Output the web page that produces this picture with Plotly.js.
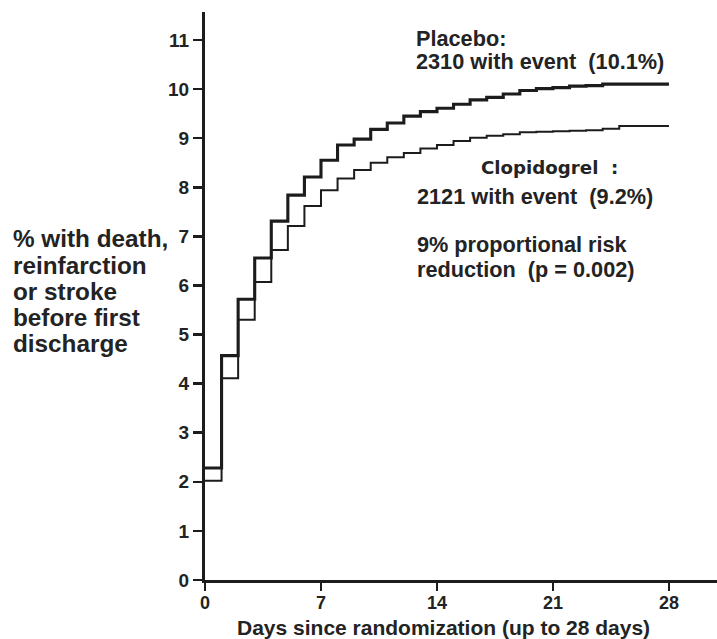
<!DOCTYPE html>
<html>
<head>
<meta charset="utf-8">
<script src="https://cdn.plot.ly/plotly-3.0.1.min.js"></script>
<style>
html,body{margin:0;padding:0;background:#fff;}
#chart{width:717px;height:639px;}
</style>
</head>
<body>
<div id="chart"></div>
<script>
// ---- data ----
const days = [0,1,2,3,4,5,6,7,8,9,10,11,12,13,14,15,16,17,18,19,20,21,22,23,24,25,26,27,28];
const placebo = [2.28,4.57,5.72,6.56,7.31,7.84,8.21,8.55,8.86,8.98,9.18,9.31,9.45,9.54,9.61,9.69,9.78,9.83,9.90,9.97,10.01,10.03,10.06,10.07,10.10,10.10,10.10,10.10,10.10];
const clopidogrel = [2.02,4.11,5.30,6.07,6.72,7.21,7.62,7.94,8.18,8.35,8.50,8.61,8.70,8.79,8.86,8.94,9.01,9.05,9.08,9.12,9.13,9.14,9.15,9.16,9.19,9.25,9.25,9.25,9.25];
const xTickVals = [0,7,14,21,28];
const xTickText = ['0','7','14','21','28'];
const yTickVals = [0,1,2,3,4,5,6,7,8,9,10,11];
const yTickText = ['0','1','2','3','4','5','6','7','8','9','10','11'];
const yLabelLines = ['% with death,','reinfarction','or stroke','before first','discharge'];
const xTitle = 'Days since randomization (up to 28 days)';
const NB = '\u00a0';

// ---- layout geometry ----
const W = 717, H = 639;
const M = {l:205, r:0, t:12, b:59};
const PW = W - M.l - M.r, PH = H - M.t - M.b;
const px = x => (x - M.l) / PW;           // pixel -> paper x
const py = y => (H - M.b - y) / PH;       // pixel -> paper y

const INK = '#1c1c1c';
const TXT = '#232323';
const FONT = 'Arial, "Liberation Sans", Helvetica, sans-serif';

const traces = [
  {x: days, y: placebo, type:'scatter', mode:'lines', name:'Placebo',
   line:{shape:'hv', color:INK, width:3.1}, cliponaxis:false, hoverinfo:'skip'},
  {x: days, y: clopidogrel, type:'scatter', mode:'lines', name:'Clopidogrel',
   line:{shape:'hv', color:INK, width:2.0}, cliponaxis:false, hoverinfo:'skip'}
];

function note(text, x, y, size, family, anchor){
  return {text:text, xref:'paper', yref:'paper', x:px(x), y:py(y),
          xanchor:anchor||'left', yanchor:'middle', showarrow:false, align:'left',
          font:{family:family||FONT, size:size, color:TXT, weight:'bold'}};
}

const annotations = [
  note('Placebo:', 414, 38, 21.7),
  note('2310 with event' + NB + NB + '(10.1%)', 414, 61, 21.7),
  note('Clopidogrel' + NB + NB + ':', 479, 167, 18.2, '"DejaVu Sans", Verdana, sans-serif'),
  note('2121 with event' + NB + NB + '(9.2%)', 415, 197, 21.7),
  note('9% proportional risk', 415, 245, 21.7),
  note('reduction' + NB + NB + '(p = 0.002)', 415, 269, 21.7),
  note(xTitle, 443, 627, 21, FONT, 'center')
];
const yLabelY = [239, 265, 291, 317, 343];
yLabelLines.forEach((t,i) => annotations.push(note(t, 11, yLabelY[i], 24.3)));

const layout = {
  width: W, height: H,
  margin: M,
  paper_bgcolor:'#fff', plot_bgcolor:'#fff',
  showlegend:false,
  font:{family:FONT, color:TXT},
  xaxis:{
    range:[0, 30.9], tickmode:'array', tickvals:xTickVals, ticktext:xTickText,
    ticks:'outside', ticklen:8, tickwidth:2.5, tickcolor:INK,
    showline:true, linewidth:3, linecolor:INK,
    showgrid:false, zeroline:false, ticklabelstandoff:-4,
    tickfont:{family:FONT, size:18, color:TXT, weight:'bold'}
  },
  yaxis:{
    range:[0, 11.57], tickmode:'array', tickvals:yTickVals, ticktext:yTickText,
    ticks:'outside', ticklen:9, tickwidth:2.5, tickcolor:INK,
    showline:true, linewidth:3, linecolor:INK,
    showgrid:false, zeroline:false,
    tickfont:{family:FONT, size:19, color:TXT, weight:'bold'}
  },
  annotations: annotations
};

Plotly.newPlot('chart', traces, layout, {staticPlot:true, displayModeBar:false});
</script>
</body>
</html>
